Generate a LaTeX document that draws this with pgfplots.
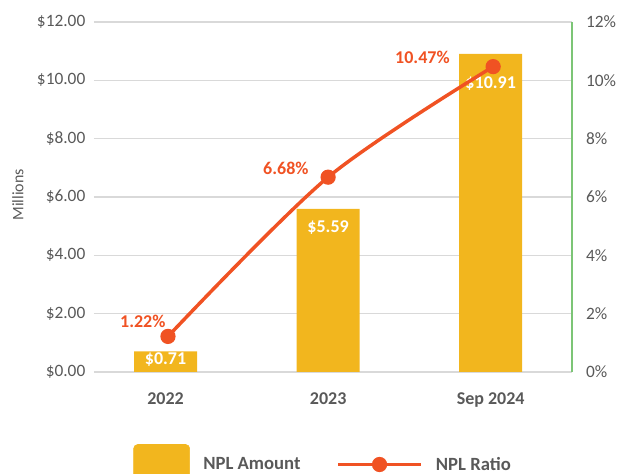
\documentclass[border=0pt]{standalone}
\usepackage{fontspec}
\setmainfont{Carlito}
\usepackage{pgfplots}
\pgfplotsset{compat=1.18}
\definecolor{barc}{HTML}{F2B61E}
\definecolor{linec}{HTML}{F05223}
\definecolor{txt}{HTML}{595959}
\definecolor{gridc}{HTML}{D9D9D9}
\definecolor{axg}{HTML}{7CC576}

\begin{document}
\begin{tikzpicture}[font=\fontsize{13}{15}\selectfont]
\pgfplotsset{
  common/.style={scale only axis, width=358.5pt, height=262.5pt,
    xmin=-0.44, xmax=2.5, ymin=0, ymax=12,
    /pgf/number format/assume math mode=true,
    tick label style={text=txt, font=\fontsize{13}{15}\selectfont}},
}
\begin{axis}[common, name=main,
  ybar, bar width=47.25pt,
  axis line style={draw=none},
  xtick={0,1,2}, xticklabels={2022,2023,Sep 2024},
  xticklabel style={font=\fontsize{13.5}{15}\selectfont\bfseries, yshift=-8pt},
  ytick={0,2,...,12},
  yticklabel={\$\pgfmathprintnumber[fixed,fixed zerofill,precision=2]{\tick}},
  yticklabel style={xshift=-3pt},
  major tick style={draw=none},
  ymajorgrids, grid style={draw=gridc, line width=0.9pt},
  ylabel={Millions},
  ylabel style={at={(rel axis cs:0,0.506)}, anchor=center, yshift=57pt, text=txt, font=\fontsize{12}{14}\selectfont},
  visualization depends on={\thisrow{off} \as \off},
  nodes near coords={\$\pgfmathprintnumber[fixed,fixed zerofill,precision=2]{\pgfplotspointmeta}},
  nodes near coords style={anchor=center, yshift=-\off pt, text=white, font=\fontsize{13.5}{15}\selectfont\bfseries,
    /pgf/number format/assume math mode=true},
]
\addplot[fill=barc, draw=none] table[x=x, y=y] {
x y off
0 0.71 6.5
1 5.59 14
2 10.91 22
};
\end{axis}
\begin{axis}[common,
  axis x line=none, axis y line*=right,
  axis line style={draw=axg, line width=1pt},
  ytick={0,2,...,12},
  yticklabel={\pgfmathprintnumber{\tick}\%},
  yticklabel style={xshift=7pt},
  ytick style={draw=none},
  extra y ticks={0,12}, extra y tick labels={},
  extra y tick style={tick style={draw=axg, line width=1pt}, major tick length=6pt, tick align=outside},
  legend style={at={(0.48,-0.198)}, anchor=north, draw=none, fill=none, legend columns=2,
    font=\fontsize{14}{16}\selectfont\bfseries, text=txt,
    /tikz/every odd column/.append style={column sep=8pt},
    /tikz/every even column/.append style={column sep=25pt}},
]
\addlegendimage{legend image code/.code={\fill[barc, rounded corners=3pt] (0pt,-12pt) rectangle (42pt,15pt);}}
\addlegendentry{NPL Amount}
\addplot[linec, line width=2.6pt, smooth, mark=*, mark size=4.4pt,
  legend image code/.code={\draw[linec, line width=2.6pt] (0pt,0pt) -- (62pt,0pt); \fill[linec] (31pt,0pt) circle (4.4pt);}]
  coordinates {(0.015,1.22) (1,6.68) (2.015,10.47)};
\addlegendentry{NPL Ratio}
\node[text=linec, font=\fontsize{13.5}{15}\selectfont\bfseries] at (axis cs:-0.14,1.72) {1.22\%};
\node[text=linec, font=\fontsize{13.5}{15}\selectfont\bfseries] at (axis cs:0.74,6.98) {6.68\%};
\node[text=linec, font=\fontsize{13.5}{15}\selectfont\bfseries] at (axis cs:1.58,10.77) {10.47\%};
\end{axis}
\pgfresetboundingbox
\path ([xshift=-70.5pt,yshift=-76.5pt]main.south west) rectangle ([xshift=42pt,yshift=16.5pt]main.north east);
\end{tikzpicture}
\end{document}
